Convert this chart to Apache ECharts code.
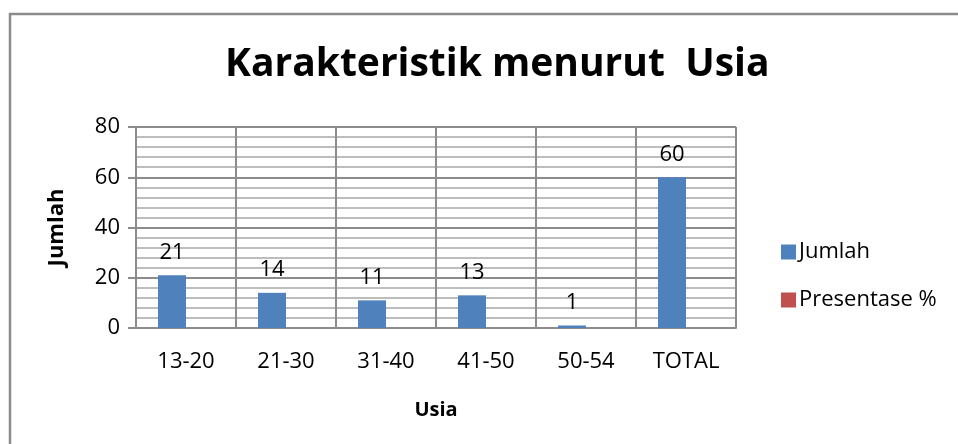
<!DOCTYPE html>
<html>
<head>
<meta charset="utf-8">
<title>Karakteristik menurut Usia</title>
<script src="https://cdn.jsdelivr.net/npm/echarts@6/dist/echarts.min.js"></script>
<style>
  html, body { margin: 0; padding: 0; background: #fff; }
  #chart { width: 958px; height: 444px; }
</style>
</head>
<body>
<div id="chart"></div>
<script>
// kategori usia
var categories = ['13-20', '21-30', '31-40', '41-50', '50-54', 'TOTAL'];
// jumlah responden
var jumlah = [21, 14, 11, 13, 1, 60];
// presentase: batangnya tidak tampak di grafik asli
var presentase = [0, 0, 0, 0, 0, 0];
var yTicks = [0, 80, 20];

var font = '"Open Sans", "Liberation Sans", sans-serif';
var chart = echarts.init(document.getElementById('chart'));

var option = {
  backgroundColor: '#fff',
  animation: false,
  title: {
    text: 'Karakteristik menurut  Usia',
    left: 220,
    top: 40,
    textStyle: { fontFamily: font, fontSize: 39, fontWeight: 'bold', color: '#000' }
  },
  graphic: [{
    type: 'rect',
    shape: { x: 10, y: 14, width: 1000, height: 500 },
    style: { fill: 'none', stroke: '#8c8c8c', lineWidth: 2.5 },
    silent: true
  }],
  legend: {
    orient: 'vertical',
    left: 776,
    top: 236,
    itemGap: 26,
    itemWidth: 15,
    itemHeight: 15,
    icon: 'rect',
    textStyle: { fontFamily: font, fontSize: 22, color: '#000', padding: [0, 0, 0, -2] },
    data: ['Jumlah', 'Presentase %']
  },
  grid: { left: 136, right: 222, top: 127, bottom: 116 },
  xAxis: {
    type: 'category',
    data: categories,
    name: 'Usia',
    nameLocation: 'middle',
    nameGap: 72,
    nameTextStyle: { fontFamily: font, fontSize: 20, fontWeight: 'bold', color: '#000' },
    axisLine: { lineStyle: { color: '#8c8c8c', width: 2 } },
    axisTick: { show: false },
    axisLabel: { fontFamily: font, fontSize: 22, color: '#000', margin: 23 },
    splitLine: { show: true, lineStyle: { color: '#8c8c8c', width: 2 } }
  },
  yAxis: {
    type: 'value',
    min: yTicks[0],
    max: yTicks[1],
    interval: yTicks[2],
    name: 'Jumlah',
    nameLocation: 'middle',
    nameGap: 68,
    nameTextStyle: { fontFamily: font, fontSize: 22, fontWeight: 'bold', color: '#000' },
    axisLine: { show: true, lineStyle: { color: '#8c8c8c', width: 2 } },
    axisTick: { show: true, length: 8, inside: false, lineStyle: { color: '#8c8c8c', width: 2 } },
    axisLabel: { fontFamily: font, fontSize: 22, color: '#000', margin: 16 },
    splitLine: { show: true, lineStyle: { color: '#8c8c8c', width: 2 } },
    minorTick: { show: false, splitNumber: 5 },
    minorSplitLine: { show: true, lineStyle: { color: '#bdbdbd', width: 2 } }
  },
  series: [{
    name: 'Jumlah',
    type: 'bar',
    data: jumlah,
    barWidth: 28,
    barGap: '0%',
    itemStyle: { color: '#4f81bd' },
    label: {
      show: true,
      position: 'top',
      distance: 12,
      fontFamily: font,
      fontSize: 22,
      color: '#000'
    }
  }, {
    name: 'Presentase %',
    type: 'bar',
    data: presentase,
    barWidth: 28,
    itemStyle: { color: '#c0504d' }
  }]
};

chart.setOption(option);
</script>
</body>
</html>
